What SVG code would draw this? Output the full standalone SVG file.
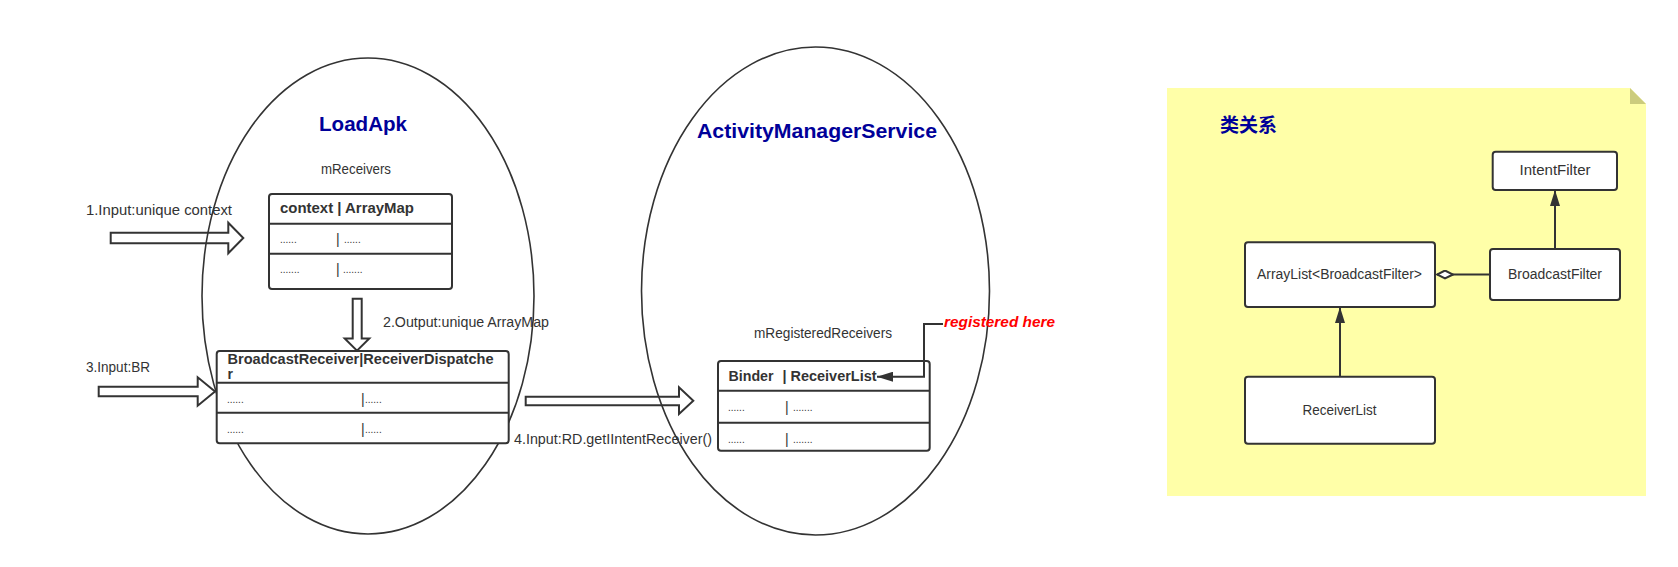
<svg xmlns="http://www.w3.org/2000/svg" width="1678" height="567" viewBox="0 0 1678 567">
<style>
.t{font-family:"Liberation Sans",Arial,sans-serif;font-size:14px;fill:#333}
.d{font-family:"Liberation Sans",Arial,sans-serif;font-size:10px;fill:#333}
.b{font-family:"Liberation Sans",Arial,sans-serif;font-size:14px;font-weight:bold;fill:#333}
.h{font-family:"Liberation Sans",Arial,sans-serif;font-size:21px;font-weight:bold;fill:#000099}
.box{fill:#fff;stroke:#333;stroke-width:2}
.ln{fill:none;stroke:#333;stroke-width:2}
.ell{fill:none;stroke:#333;stroke-width:1.6}
.ha{fill:none;stroke:#333;stroke-width:2;stroke-linejoin:miter}
.c{text-anchor:middle}
.red{font-family:"Liberation Sans",Arial,sans-serif;font-size:14px;font-weight:bold;font-style:italic;fill:#ff0000}
</style>
<defs>
<marker id="tri" viewBox="0 0 16 10" refX="16" refY="5" markerWidth="16" markerHeight="10" markerUnits="userSpaceOnUse" orient="auto">
<path d="M0,0 L16,5 L0,10 z" fill="#333"/>
</marker>
<marker id="dia" viewBox="0 0 18 10" refX="17" refY="5" markerWidth="18" markerHeight="10" markerUnits="userSpaceOnUse" orient="auto">
<path d="M1,5 L9,1 L17,5 L9,9 z" fill="#fff" stroke="#333" stroke-width="2"/>
</marker>
</defs>
<rect width="1678" height="567" fill="#fff"/>

<g id="loadapk">
<ellipse class="ell" cx="368" cy="296" rx="166" ry="238"/>
<text class="h c" x="363" y="131" textLength="88" lengthAdjust="spacingAndGlyphs">LoadApk</text>
</g>

<g id="ams">
<ellipse class="ell" cx="815.5" cy="291" rx="174" ry="244"/>
<text class="h c" x="817" y="138" textLength="240" lengthAdjust="spacingAndGlyphs">ActivityManagerService</text>
</g>

<g id="labels">
<text class="t" x="86" y="215" textLength="146" lengthAdjust="spacingAndGlyphs">1.Input:unique context</text>
<text class="t" x="383" y="327" textLength="166" lengthAdjust="spacingAndGlyphs">2.Output:unique ArrayMap</text>
<text class="t" x="86" y="372" textLength="64" lengthAdjust="spacingAndGlyphs">3.Input:BR</text>
<text class="t" x="514" y="444" textLength="198" lengthAdjust="spacingAndGlyphs">4.Input:RD.getIIntentReceiver()</text>
<text class="t c" x="356" y="174" textLength="70" lengthAdjust="spacingAndGlyphs">mReceivers</text>
<text class="t c" x="823" y="338" textLength="138" lengthAdjust="spacingAndGlyphs">mRegisteredReceivers</text>
<text class="red" x="944" y="327" textLength="111" lengthAdjust="spacingAndGlyphs">registered here</text>
</g>

<g id="mReceivers-table">
<rect class="box" x="269" y="194" width="183" height="95" rx="3"/>
<line class="ln" x1="269" y1="223.7" x2="452" y2="223.7"/>
<line class="ln" x1="269" y1="253.7" x2="452" y2="253.7"/>
<text class="b" x="280" y="213" textLength="134" lengthAdjust="spacingAndGlyphs">context | ArrayMap</text>
<text class="d" x="280" y="243">......</text>
<text class="t" x="336" y="244">|</text>
<text class="d" x="344" y="243">......</text>
<text class="d" x="280" y="273">.......</text>
<text class="t" x="336" y="274">|</text>
<text class="d" x="343" y="273">.......</text>
</g>

<g id="br-table">
<rect class="box" x="216.7" y="351" width="292" height="92.3" rx="3"/>
<line class="ln" x1="216.7" y1="382.7" x2="508.7" y2="382.7"/>
<line class="ln" x1="216.7" y1="412.7" x2="508.7" y2="412.7"/>
<text class="b" x="227.5" y="364" textLength="266" lengthAdjust="spacingAndGlyphs">BroadcastReceiver|ReceiverDispatche</text>
<text class="b" x="227.5" y="379">r</text>
<text class="d" x="227" y="403">......</text>
<text class="t" x="361" y="404">|</text>
<text class="d" x="365" y="403">......</text>
<text class="d" x="227" y="433">......</text>
<text class="t" x="361" y="434">|</text>
<text class="d" x="365" y="433">......</text>
</g>

<g id="binder-table">
<rect class="box" x="718" y="361" width="211.7" height="89.7" rx="3"/>
<line class="ln" x1="718" y1="390.7" x2="929.7" y2="390.7"/>
<line class="ln" x1="718" y1="422.7" x2="929.7" y2="422.7"/>
<text class="b" x="728.5" y="381" textLength="45" lengthAdjust="spacingAndGlyphs">Binder</text>
<text class="b" x="782.5" y="381" textLength="94" lengthAdjust="spacingAndGlyphs">| ReceiverList</text>
<text class="d" x="728" y="411">......</text>
<text class="t" x="785" y="412">|</text>
<text class="d" x="793" y="411">.......</text>
<text class="d" x="728" y="443">......</text>
<text class="t" x="785" y="444">|</text>
<text class="d" x="793" y="443">.......</text>
</g>

<g id="note">
<polygon points="1167,88 1630,88 1646,104 1646,496 1167,496" fill="#ffffa8"/>
<polygon points="1630,88 1646,104 1630,104" fill="#cccc7d"/>
<text x="1220" y="131.5" font-family="'Liberation Sans','Noto Sans CJK SC',sans-serif" font-size="19" font-weight="bold" fill="#000099">类关系</text>
</g>

<g id="intentfilter">
<rect class="box" x="1492.7" y="151.7" width="124.3" height="38.3" rx="3"/>
<text class="t c" x="1555" y="175" textLength="71" lengthAdjust="spacingAndGlyphs">IntentFilter</text>
</g>
<g id="broadcastfilter">
<rect class="box" x="1490" y="249" width="130" height="51" rx="3"/>
<text class="t c" x="1555" y="279" textLength="94" lengthAdjust="spacingAndGlyphs">BroadcastFilter</text>
</g>
<g id="arraylist">
<rect class="box" x="1245" y="242.3" width="190" height="64.7" rx="3"/>
<text class="t c" x="1339.5" y="279" textLength="165" lengthAdjust="spacingAndGlyphs">ArrayList&lt;BroadcastFilter&gt;</text>
</g>
<g id="receiverlist">
<rect class="box" x="1245" y="376.7" width="190" height="67" rx="3"/>
<text class="t c" x="1339.5" y="415" textLength="74" lengthAdjust="spacingAndGlyphs">ReceiverList</text>
</g>

<g id="connectors">
<polygon class="ha" points="110.7,232.7 228.3,232.7 228.3,222.7 243.3,238 228.3,253.3 228.3,243.3 110.7,243.3"/>
<polygon class="ha" points="352.7,298.7 361.7,298.7 361.7,338.5 369.3,338.5 357,350.7 344.7,338.5 352.7,338.5"/>
<polygon class="ha" points="98.7,386.7 197.7,386.7 197.7,377.3 215,391.5 197.7,405.7 197.7,396.3 98.7,396.3"/>
<polygon class="ha" points="525.7,396.7 679,396.7 679,387.3 693.3,400.8 679,414 679,405.3 525.7,405.3"/>
<path class="ln" d="M943,324 H924 V376.7 H877" marker-end="url(#tri)"/>
<path class="ln" d="M1555,249 V190" marker-end="url(#tri)"/>
<path class="ln" d="M1340,376.7 V307" marker-end="url(#tri)"/>
<path class="ln" d="M1490,274.5 H1437" marker-end="url(#dia)"/>
</g>
</svg>
